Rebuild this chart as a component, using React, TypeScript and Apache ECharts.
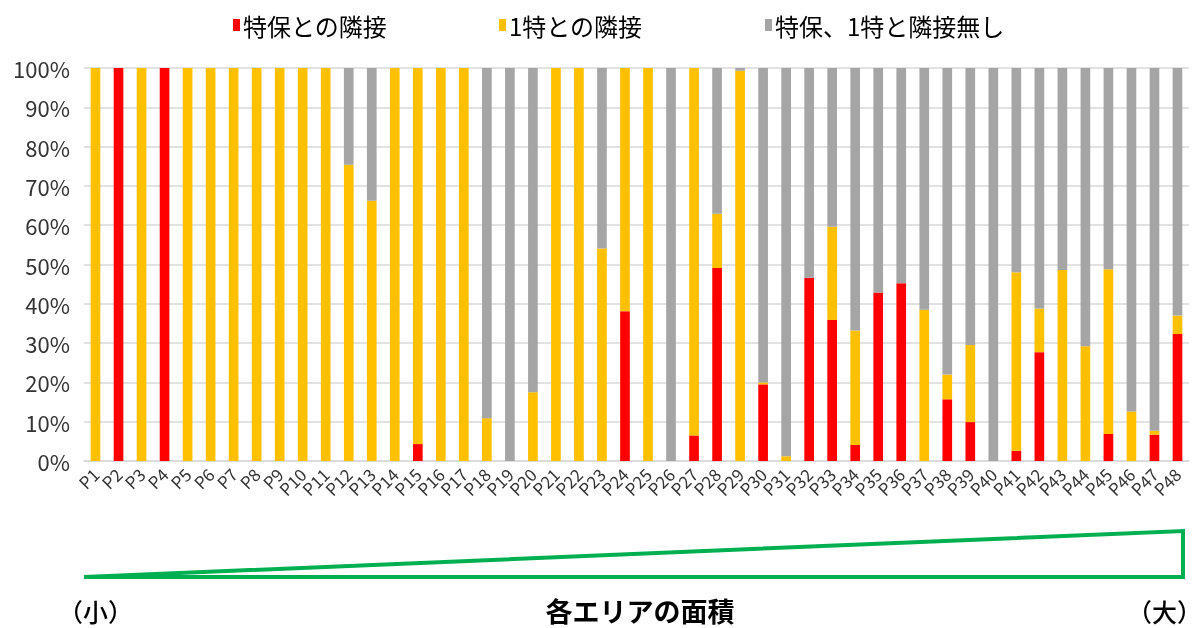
import React, { useEffect, useRef } from "react";
import * as echarts from "echarts";

const categories = ["P1","P2","P3","P4","P5","P6","P7","P8","P9","P10","P11","P12","P13","P14","P15","P16","P17","P18","P19","P20","P21","P22","P23","P24","P25","P26","P27","P28","P29","P30","P31","P32","P33","P34","P35","P36","P37","P38","P39","P40","P41","P42","P43","P44","P45","P46","P47","P48"];

const seriesNames = ["特保との隣接", "1特との隣接", "特保、1特と隣接無し"];

const redValues = [0,100,0,100,0,0,0,0,0,0, 0,0,0,0,4.3,0,0,0,0,0, 0,0,0,38.1,0,0,6.5,49.1,0,19.5, 0,46.6,35.9,4.1,42.9,45.2,0,15.7,9.9,0, 2.6,27.7,0,0,6.9,0,6.7,32.3];
const yellowValues = [100,0,100,0,100,100,100,100,100,100, 100,75.4,66.2,100,95.7,100,100,10.9,0,17.5, 100,100,54.1,61.9,100,0,93.5,13.8,99.3,0.5, 1.2,0,23.7,29.1,0,0,38.5,6.3,19.6,0, 45.4,11.1,48.6,29.2,41.9,12.6,1.0,4.7];
const grayValues = [0,0,0,0,0,0,0,0,0,0, 0,24.6,33.8,0,0,0,0,89.1,100,82.5, 0,0,45.9,0,0,100,0,37.1,0.7,80.0, 98.8,53.4,40.4,66.8,57.1,54.8,61.5,78.0,70.5,100, 52.0,61.2,51.4,70.8,51.2,87.4,92.3,63.0];

const colors = ["#FF0000", "#FFC000", "#A5A5A5"];
const FONT = "'Noto Sans CJK JP', 'Noto Sans', sans-serif";

export default function App() {
  const ref = useRef<HTMLDivElement>(null);
  useEffect(() => {
    if (!ref.current) return;
    const chart = echarts.init(ref.current, null, { renderer: "svg" });
    const dataSets = [redValues, yellowValues, grayValues];
    const legendLefts = [228, 494, 760];
    chart.setOption({
      animation: false,
      textStyle: { fontFamily: FONT },
      legend: seriesNames.map((n, i) => ({
        data: [n],
        left: legendLefts[i],
        top: 8,
        itemWidth: 7,
        itemHeight: 12,
        itemGap: 6,
        icon: "rect",
        textStyle: { fontSize: 24, color: "#000", fontFamily: FONT, padding: [0, 0, 0, -2] },
      })),
      grid: { left: 84, right: 15, top: 68, bottom: 167 },
      xAxis: {
        type: "category",
        data: categories,
        axisLine: { lineStyle: { color: "#D9D9D9", width: 1.5 } },
        axisTick: { show: false },
        axisLabel: {
          show: true,
          interval: 0,
          rotate: 45,
          fontSize: 17,
          color: "#333333",
          margin: 10,
          fontFamily: FONT,
          hideOverlap: false,
        },
      },
      yAxis: {
        type: "value",
        min: 0,
        max: 100,
        interval: 10,
        axisLine: { show: false },
        axisTick: { show: false },
        splitLine: { lineStyle: { color: "#D9D9D9", width: 1.5 } },
        axisLabel: { formatter: "{value}%", fontSize: 22, color: "#333333", margin: 14, fontFamily: FONT },
      },
      series: seriesNames.map((n, i) => ({
        name: n,
        type: "bar",
        stack: "total",
        barWidth: "42%",
        itemStyle: { color: colors[i] },
        data: dataSets[i],
      })),
      graphic: [
        {
          type: "polygon",
          shape: { points: [[84, 577], [1183, 531], [1183, 577]] },
          style: { fill: "none", stroke: "#00B050", lineWidth: 4 },
        },
        {
          type: "text",
          x: 58,
          y: 611,
          style: { text: "（小）", font: `500 25px ${FONT}`, fill: "#000", textAlign: "left", textVerticalAlign: "middle" },
        },
        {
          type: "text",
          x: 640,
          y: 610,
          style: { text: "各エリアの面積", font: `bold 27px ${FONT}`, fill: "#000", textAlign: "center", textVerticalAlign: "middle" },
        },
        {
          type: "text",
          x: 1202,
          y: 611,
          style: { text: "（大）", font: `500 25px ${FONT}`, fill: "#000", textAlign: "right", textVerticalAlign: "middle" },
        },
      ],
    });
    return () => chart.dispose();
  }, []);
  return <div ref={ref} style={{ position: "fixed", left: 0, top: 0, width: 1204, height: 628 }} />;
}
